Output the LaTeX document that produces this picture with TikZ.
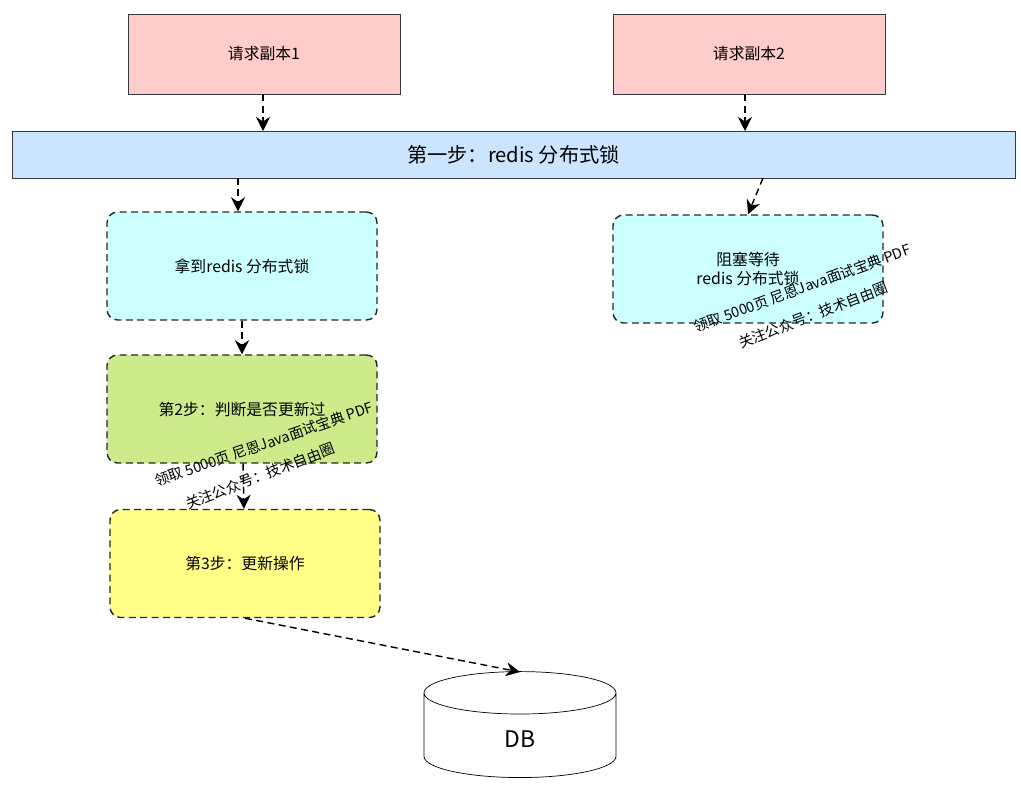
\documentclass[tikz,border=0pt]{standalone}
\usepackage{fontspec}
\setmainfont{Noto Sans CJK SC}
\usetikzlibrary{shapes.geometric, arrows, arrows.meta}
\definecolor{pinkfill}{HTML}{FFCCCC}
\definecolor{barfill}{HTML}{CCE5FF}
\definecolor{cyanfill}{HTML}{CCFFFF}
\definecolor{greenfill}{HTML}{CDEB8B}
\definecolor{yellowfill}{HTML}{FFFF88}
\definecolor{edge}{HTML}{36393D}
\tikzstyle{req} = [rectangle, minimum width=5.44cm, minimum height=1.6cm,
                   text centered, draw=edge, fill=pinkfill, font=\fontsize{9}{11}\selectfont]
\tikzstyle{stage} = [rectangle, rounded corners=6pt, dash pattern=on 4pt off 2.5pt, thick,
                    minimum width=5.4cm, minimum height=2.16cm, text centered, align=center,
                    draw=black!85, font=\fontsize{9}{11}\selectfont]
\tikzstyle{arrow} = [thick, dash pattern=on 4pt off 2.5pt, -{Stealth[length=8pt,width=8pt]}]
\tikzstyle{wmark} = [font=\fontsize{8.2}{9}\selectfont, inner sep=0pt]
\begin{document}
\begin{tikzpicture}[x=0.02cm, y=-0.02cm]
\useasboundingbox (0,0) rectangle (1021,792);
\node (req1) [req] at (264,54) {请求副本1};
\node (req2) [req] at (749,54) {请求副本2};
\node (lock) [rectangle, minimum width=20.06cm, minimum height=0.94cm, draw=edge,
              fill=barfill, font=\fontsize{11.5}{13}\selectfont] at (513.5,154.5) {第一步：redis 分布式锁};
\node (got) [stage, fill=cyanfill] at (242,266) {拿到redis 分布式锁};
\node (wait) [stage, fill=cyanfill] at (748,269) {阻塞等待\\redis 分布式锁};
\node (check) [stage, fill=greenfill] at (242,409) {第2步：判断是否更新过};
\node (update) [stage, fill=yellowfill] at (245,563.5) {第3步：更新操作};
\node (db) [cylinder, shape border rotate=90, aspect=1.0, minimum width=3.84cm,
            minimum height=2.12cm, draw=black, fill=white, font=\fontsize{13}{15}\selectfont] at (520,739) {DB};

\coordinate (lockA) at (263,131);
\coordinate (lockB) at (745,131);
\coordinate (lockC) at (238,178);
\coordinate (lockD) at (763,178);
\draw [arrow] (req1.south -| lockA) -- (lockA);
\draw [arrow] (req2.south -| lockB) -- (lockB);
\draw [arrow] (lockC) -- (got.north -| lockC);
\draw [arrow] (lockD) -- (wait.north);
\draw [arrow] (got) -- (check);
\draw [arrow] (check) -- (update);
\draw [arrow] (update.south) -- (520,672);

\node [wmark, rotate=19] at (264,444) {领取 5000页 尼恩Java面试宝典 PDF};
\node [wmark, rotate=21] at (260,476) {关注公众号：技术自由圈};
\node [wmark, rotate=20] at (802,288) {领取 5000页 尼恩Java面试宝典 PDF};
\node [wmark, rotate=21] at (813,315) {关注公众号：技术自由圈};
\end{tikzpicture}
\end{document}
